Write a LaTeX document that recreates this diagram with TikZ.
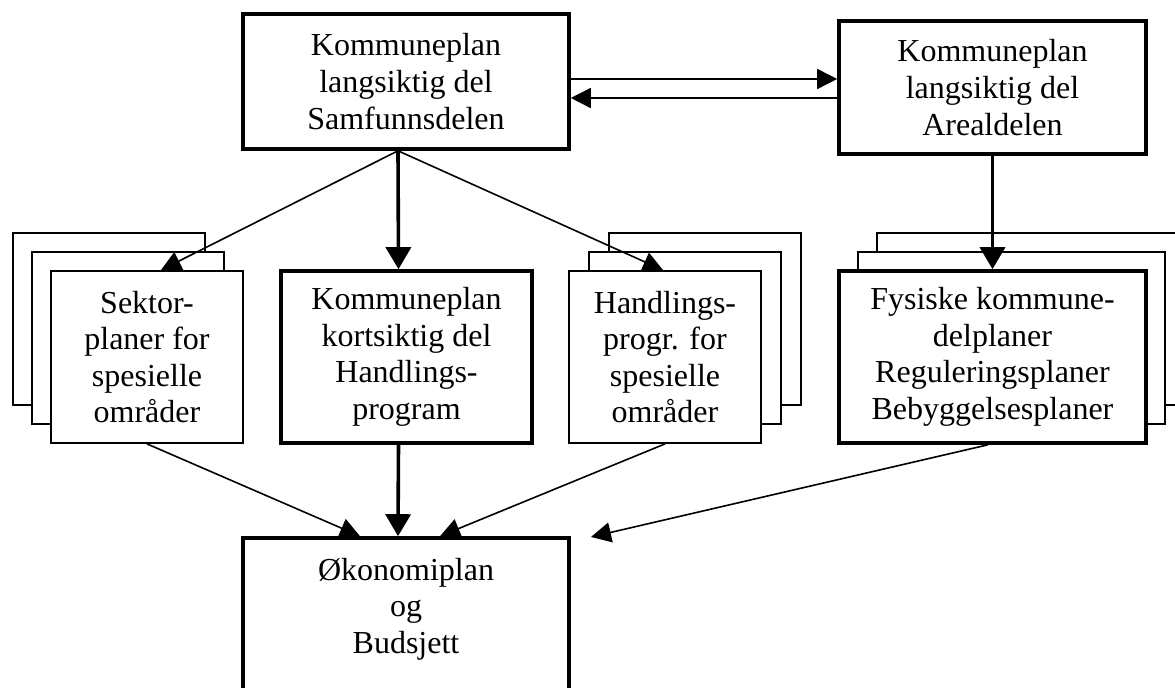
\documentclass[tikz,border=0pt]{standalone}
\usepackage{fontspec}
\setmainfont{Liberation Serif}
\usetikzlibrary{arrows.meta}

\begin{document}
\begin{tikzpicture}[x=0.5pt, y=-0.5pt,
  >={Triangle[length=10pt, width=10pt]},
  plan/.style={draw, line width=0.9pt, fill=white, align=center, inner sep=0pt,
    font=\fontsize{16}{18.3}\selectfont},
  hoved/.style={plan, line width=1.8pt},
  smal/.style={minimum width=96pt, minimum height=86pt},
  bred/.style={minimum width=153.5pt, minimum height=86pt},
  tynn/.style={line width=0.8pt, ->},
  tykk/.style={line width=1.8pt, -{Triangle[length=11pt, width=12.5pt]}}]

  \useasboundingbox (0,0) rectangle (1175,688);

  \node[hoved, minimum width=163pt, minimum height=67.5pt] (samf) at (406,81.5)
    {Kommuneplan\\langsiktig del\\Samfunnsdelen};
  \node[hoved, minimum width=153.5pt, minimum height=66.5pt] (areal) at (992.5,87.5)
    {Kommuneplan\\langsiktig del\\Arealdelen};

  % stablede planer
  \foreach \i in {2,1} {
    \node[plan, smal] (sektor\i) at (147-19*\i,357-19*\i) {};
    \node[plan, smal] (handl\i) at (665+20*\i,357-19*\i) {};
    \node[plan, bred] (fys\i) at (992.5+19*\i,357-19*\i) {};
  }
  \node[plan, smal] (sektor) at (147,357) {Sektor-\\planer for\\spesielle\\områder};
  \node[hoved, minimum width=125.5pt, minimum height=86pt] (kort) at (406.5,357)
    {Kommuneplan\\kortsiktig del\\Handlings-\\program};
  \node[plan, smal] (handl) at (665,357) {Handlings-\\progr. for\\spesielle\\områder};
  \node[hoved, bred] (fys) at (992.5,357)
    {Fysiske kommune-\\delplaner\\Reguleringsplaner\\Bebyggelsesplaner};

  \node[hoved, minimum width=163pt, minimum height=86pt] (okonomi) at (406,624)
    {Økonomiplan\\og\\Budsjett\\\mbox{}};

  \draw[tynn] ([yshift=1.25pt]samf.east) -- ([yshift=1.25pt]samf.east -| areal.west);
  \draw[tynn] ([yshift=-8.25pt]samf.east -| areal.west) -- ([yshift=-8.25pt]samf.east);

  \draw[tynn] ([xshift=-4pt]samf.south) -- ([xshift=7pt]sektor.north);
  \draw[tykk] ([xshift=-4pt]samf.south) -- ([xshift=-4pt]kort.north);
  \draw[tynn] ([xshift=-4pt]samf.south) -- ([xshift=-1pt]handl.north);
  \draw[tykk] (areal.south) -- (fys.north);

  \coordinate (fri) at (591,537);
  \draw[tynn] (sektor.south) -- ([xshift=-23pt]okonomi.north);
  \draw[tykk] ([xshift=-4pt]kort.south) -- ([xshift=-4pt]okonomi.north);
  \draw[tynn] (handl.south) -- ([xshift=17pt]okonomi.north);
  \draw[tynn] ([xshift=-2.25pt]fys.south) -- (fri);

\end{tikzpicture}
\end{document}
